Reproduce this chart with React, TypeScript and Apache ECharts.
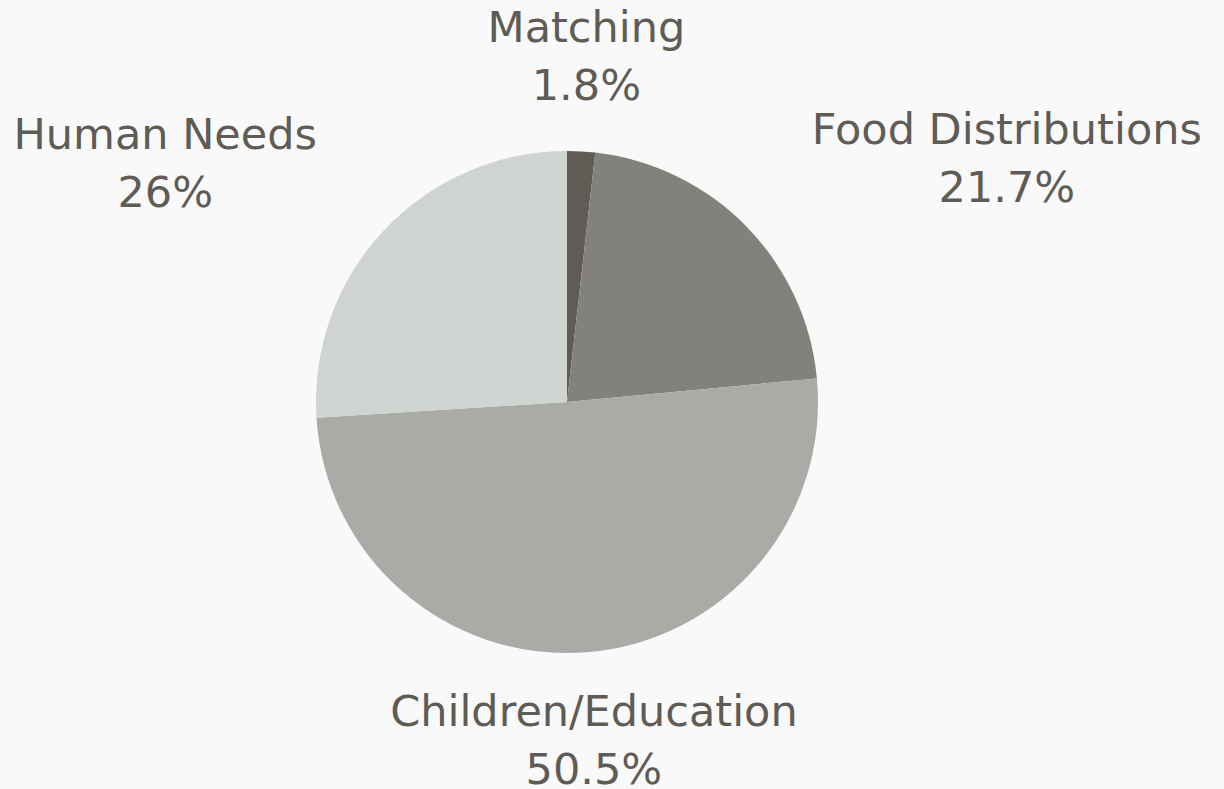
import React, { useEffect, useRef } from "react";
import * as echarts from "echarts";

const categories = ["Matching", "Food Distributions", "Children/Education", "Human Needs"];
const values = [1.8, 21.7, 50.5, 26];
const colors = ["#5f5b55", "#82817b", "#a9aba6", "#d0d4d1"];

const CX = 567;
const CY = 402;
const R = 251;
const LABEL_OFFSET = 92;
const LABEL_LIFT = 4;

export default function App() {
  const ref = useRef<HTMLDivElement>(null);
  useEffect(() => {
    document.body.style.margin = "0";
    const chart = echarts.init(ref.current!, undefined, { renderer: "svg" });
    const total = values.reduce((a, b) => a + b, 0);
    const mids: number[] = [];
    let acc = 0;
    values.forEach((v) => {
      mids.push(((acc + v / 2) / total) * Math.PI * 2);
      acc += v;
    });
    chart.setOption({
      animation: false,
      backgroundColor: "#f9f9f9",
      series: [
        {
          type: "pie",
          center: [CX, CY],
          radius: R,
          startAngle: 90,
          clockwise: true,
          data: categories.map((name, i) => ({
            name,
            value: values[i],
            itemStyle: { color: colors[i] },
          })),
          itemStyle: { borderWidth: 0 },
          label: {
            show: true,
            position: "outside",
            formatter: "{b}\n{c}%",
            color: "#5f5b55",
            fontFamily: "DejaVu Sans",
            fontSize: 43,
            lineHeight: 58,
            align: "center",
          },
          labelLine: { show: false },
          labelLayout: (params: any) => {
            const a = mids[params.dataIndex];
            const dx = Math.sin(a);
            const dy = -Math.cos(a);
            const d = R + LABEL_OFFSET;
            const w = params.labelRect ? params.labelRect.width : 0;
            const shift = Math.abs(dx) < 0.3 ? 0 : (dx > 0 ? w / 2 : -w / 2);
            return {
              x: CX + d * dx + shift,
              y: CY + d * dy - LABEL_LIFT,
              align: "center",
              verticalAlign: "middle",
            };
          },
          emphasis: { disabled: true },
        },
      ],
    });
    return () => chart.dispose();
  }, []);
  return <div ref={ref} style={{ width: 1224, height: 789 }} />;
}
